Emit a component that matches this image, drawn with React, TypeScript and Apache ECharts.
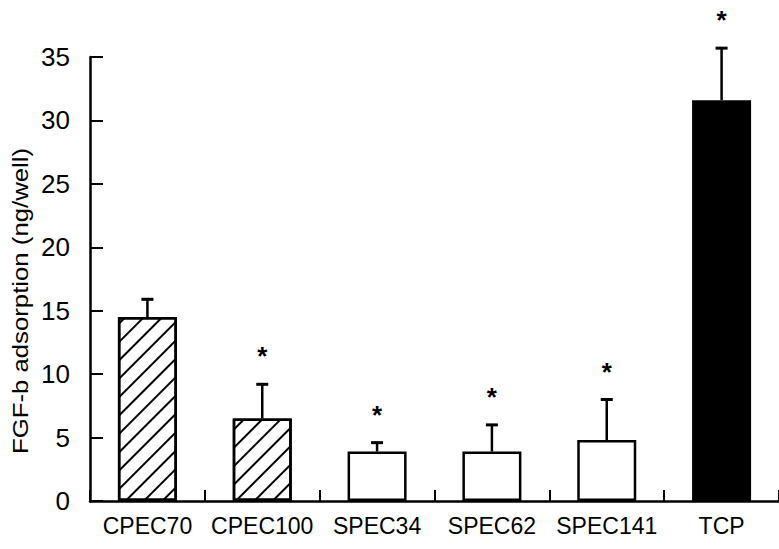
import React, { useEffect, useRef } from "react";
import * as echarts from "echarts";

const categories = ["CPEC70", "CPEC100", "SPEC34", "SPEC62", "SPEC141", "TCP"];
const means = [14.5, 6.5, 3.9, 3.9, 4.8, 31.6];
const errorTop = [15.9, 9.2, 4.6, 6.0, 8.0, 35.7];
const significant = [false, true, true, true, true, true];
const fillKind = ["hatch", "hatch", "open", "open", "open", "solid"];
const yTicks = [0, 5, 10, 15, 20, 25, 30, 35];
const yTitle = "FGF-b adsorption (ng/well)";

const FONT = "'Liberation Sans', Arial, Helvetica, sans-serif";

export default function App() {
  const ref = useRef<HTMLDivElement>(null);

  useEffect(() => {
    if (!ref.current) return;
    const chart = echarts.init(ref.current, undefined, { renderer: "svg" });

    const hatchDecal = {
      symbol: "rect",
      symbolSize: 1,
      color: "#000",
      dashArrayX: [1, 0],
      dashArrayY: [1.6, 10.2],
      rotation: -Math.PI / 4,
    };

    const styleFor = (kind: string) => {
      if (kind === "solid") return { color: "#000", borderColor: "#000", borderWidth: 2.5 };
      if (kind === "hatch")
        return { color: "#fff", borderColor: "#000", borderWidth: 2.5, decal: hatchDecal };
      return { color: "#fff", borderColor: "#000", borderWidth: 2.5 };
    };

    chart.setOption({
      animation: false,
      backgroundColor: "#fff",
      grid: { left: 90, top: 57, width: 698, height: 444, containLabel: false },
      xAxis: {
        type: "category",
        data: categories,
        boundaryGap: true,
        axisLine: { show: true, lineStyle: { color: "#000", width: 2.5 } },
        axisTick: { show: true, inside: true, length: 11, lineStyle: { color: "#000", width: 2 } },
        axisLabel: { color: "#000", fontSize: 23, fontFamily: FONT, margin: 13, interval: 0 },
        splitLine: { show: false },
      },
      yAxis: {
        type: "value",
        min: yTicks[0],
        max: yTicks[yTicks.length - 1],
        interval: 5,
        axisLine: { show: true, lineStyle: { color: "#000", width: 2.5 } },
        axisTick: { show: true, inside: true, length: 13, lineStyle: { color: "#000", width: 2 } },
        axisLabel: { color: "#000", fontSize: 26, fontFamily: FONT, margin: 20 },
        splitLine: { show: false },
      },
      graphic: [
        {
          type: "text",
          x: 20,
          y: 301,
          rotation: Math.PI / 2,
          scaleX: 1.12,
          style: {
            text: yTitle,
            fill: "#000",
            font: `23px ${FONT}`,
            align: "center",
            verticalAlign: "middle",
          },
        },
      ],
      series: [
        {
          type: "bar",
          barWidth: 59,
          data: means.map((v, i) => ({ value: v, itemStyle: styleFor(fillKind[i]) })),
          z: 2,
        },
        {
          type: "custom",
          clip: false,
          z: 3,
          data: categories.map((_, i) => [i, means[i], errorTop[i], significant[i] ? 1 : 0]),
          renderItem: (params: any, api: any) => {
            const x = api.value(0);
            const base = api.coord([x, api.value(1)]);
            const top = api.coord([x, api.value(2)]);
            const children: any[] = [
              {
                type: "line",
                shape: { x1: base[0], y1: base[1], x2: top[0], y2: top[1] },
                style: { stroke: "#000", lineWidth: 2.5 },
              },
              {
                type: "line",
                shape: { x1: top[0] - 6, y1: top[1], x2: top[0] + 6, y2: top[1] },
                style: { stroke: "#000", lineWidth: 3 },
              },
            ];
            if (api.value(3) === 1) {
              children.push({
                type: "text",
                x: top[0],
                y: top[1] - 28,
                style: {
                  text: "*",
                  fill: "#000",
                  font: `bold 26px ${FONT}`,
                  align: "center",
                  verticalAlign: "middle",
                },
              });
            }
            return { type: "group", children };
          },
        },
      ],
    });

    return () => chart.dispose();
  }, []);

  return (
    <div
      ref={ref}
      style={{ position: "absolute", left: 0, top: 0, width: 779, height: 549 }}
    />
  );
}
